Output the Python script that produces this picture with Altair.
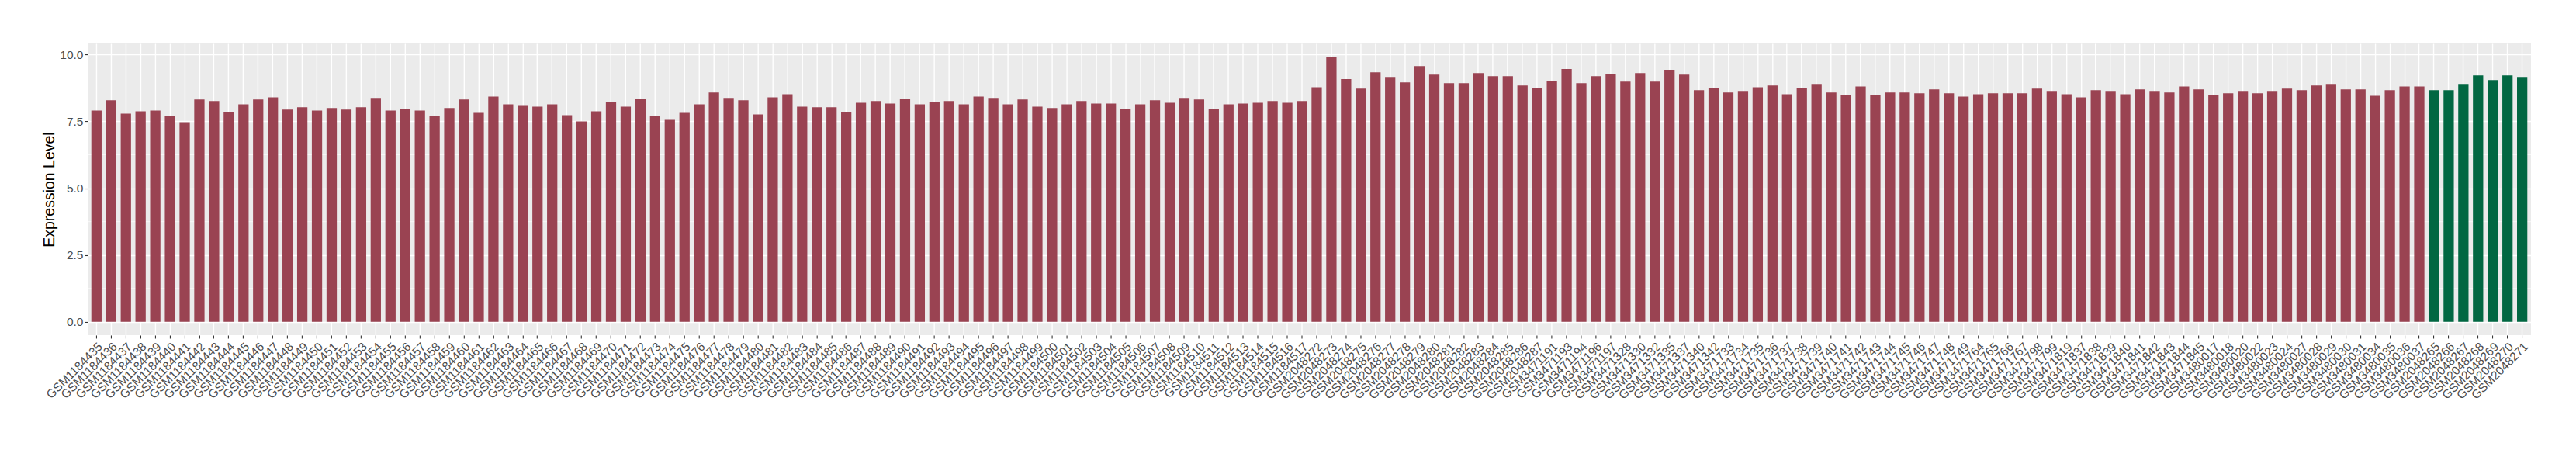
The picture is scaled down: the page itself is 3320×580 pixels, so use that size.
import altair as alt
import pandas as pd

# ---------------- data ----------------
samples = [
    "GSM1184435", "GSM1184436", "GSM1184437", "GSM1184438", "GSM1184439", "GSM1184440", "GSM1184441",
    "GSM1184442", "GSM1184443", "GSM1184444", "GSM1184445", "GSM1184446", "GSM1184447", "GSM1184448",
    "GSM1184449", "GSM1184450", "GSM1184451", "GSM1184452", "GSM1184453", "GSM1184454", "GSM1184455",
    "GSM1184456", "GSM1184457", "GSM1184458", "GSM1184459", "GSM1184460", "GSM1184461", "GSM1184462",
    "GSM1184463", "GSM1184464", "GSM1184465", "GSM1184466", "GSM1184467", "GSM1184468", "GSM1184469",
    "GSM1184470", "GSM1184471", "GSM1184472", "GSM1184473", "GSM1184474", "GSM1184475", "GSM1184476",
    "GSM1184477", "GSM1184478", "GSM1184479", "GSM1184480", "GSM1184481", "GSM1184482", "GSM1184483",
    "GSM1184484", "GSM1184485", "GSM1184486", "GSM1184487", "GSM1184488", "GSM1184489", "GSM1184490",
    "GSM1184491", "GSM1184492", "GSM1184493", "GSM1184494", "GSM1184495", "GSM1184496", "GSM1184497",
    "GSM1184498", "GSM1184499", "GSM1184500", "GSM1184501", "GSM1184502", "GSM1184503", "GSM1184504",
    "GSM1184505", "GSM1184506", "GSM1184507", "GSM1184508", "GSM1184509", "GSM1184510", "GSM1184511",
    "GSM1184512", "GSM1184513", "GSM1184514", "GSM1184515", "GSM1184516", "GSM1184517",
    "GSM2048272", "GSM2048273", "GSM2048274", "GSM2048275", "GSM2048276", "GSM2048277", "GSM2048278",
    "GSM2048279", "GSM2048280", "GSM2048281", "GSM2048282", "GSM2048283", "GSM2048284", "GSM2048285",
    "GSM2048286", "GSM2048287",
    "GSM3471191", "GSM3471193", "GSM3471194", "GSM3471196", "GSM3471197",
    "GSM3471328", "GSM3471330", "GSM3471332", "GSM3471335", "GSM3471337", "GSM3471340", "GSM3471342",
    "GSM3471733", "GSM3471734", "GSM3471735", "GSM3471736", "GSM3471737", "GSM3471738", "GSM3471739",
    "GSM3471740", "GSM3471741", "GSM3471742", "GSM3471743", "GSM3471744", "GSM3471745", "GSM3471746",
    "GSM3471747", "GSM3471748", "GSM3471749", "GSM3471764", "GSM3471765", "GSM3471766", "GSM3471767",
    "GSM3471798", "GSM3471799", "GSM3471819", "GSM3471837", "GSM3471838", "GSM3471839", "GSM3471840",
    "GSM3471841", "GSM3471842", "GSM3471843", "GSM3471844", "GSM3471845",
    "GSM3480017", "GSM3480018", "GSM3480020", "GSM3480022", "GSM3480023", "GSM3480024", "GSM3480027",
    "GSM3480028", "GSM3480029", "GSM3480030", "GSM3480031", "GSM3480034", "GSM3480035", "GSM3480036",
    "GSM3480037",
    "GSM2048265", "GSM2048266", "GSM2048267", "GSM2048268", "GSM2048269", "GSM2048270", "GSM2048271",
]

values = [
    7.91, 8.29, 7.79, 7.88, 7.91, 7.70, 7.47, 8.32, 8.26, 7.85, 8.14, 8.32, 8.40, 7.94, 8.03, 7.91,
    8.00, 7.94, 8.03, 8.38, 7.91, 7.97, 7.91, 7.70, 8.00, 8.32, 7.82, 8.43, 8.14, 8.11, 8.05, 8.14,
    7.73, 7.50, 7.88, 8.23, 8.05, 8.35, 7.70, 7.56, 7.82, 8.14, 8.58, 8.38, 8.29, 7.76, 8.40, 8.52,
    8.05, 8.03, 8.03, 7.85, 8.20, 8.26, 8.17,
    8.35, 8.14, 8.23, 8.26, 8.14, 8.43, 8.38, 8.14, 8.32, 8.05, 8.00, 8.14, 8.26, 8.17, 8.17, 7.97,
    8.14, 8.29, 8.20, 8.38, 8.32, 7.97, 8.14, 8.17, 8.20, 8.26, 8.20, 8.26,
    8.78, 9.92, 9.08, 8.73, 9.34, 9.16, 8.96, 9.57, 9.25, 8.93, 8.93, 9.31, 9.19, 9.19, 8.84, 8.75,
    9.02, 9.46, 8.93, 9.19, 9.28, 8.99, 9.31, 8.99, 9.43, 9.25, 8.67,
    8.75, 8.58, 8.64, 8.78, 8.84, 8.52, 8.75, 8.90, 8.58, 8.49, 8.81, 8.49, 8.58, 8.58, 8.55, 8.70,
    8.55, 8.43, 8.52, 8.55, 8.55, 8.55, 8.73, 8.64, 8.52, 8.40, 8.67, 8.64, 8.52, 8.70, 8.64, 8.58,
    8.81, 8.70, 8.49, 8.55, 8.64, 8.55, 8.64, 8.73, 8.67, 8.84, 8.90, 8.70, 8.70, 8.46, 8.67, 8.81,
    8.81,
    8.67, 8.67, 8.90, 9.22, 9.05, 9.22, 9.16,
]

groups = ["Other"] * 159 + ["Highlight"] * 7
group_names = ["Other", "Highlight"]
group_colors = ["#9A4352", "#016742"]

y_ticks = [0, 2.5, 5, 7.5, 10]
y_minor = [1.25, 3.75, 6.25, 8.75]
y_domain = [-0.496, 10.416]

assert len(samples) == len(values) == len(groups), (len(samples), len(values), len(groups))

df = pd.DataFrame({"Sample": samples, "Expression": values, "Group": groups})
minor_df = pd.DataFrame({"minor": y_minor})

FONT = "Liberation Sans"

x_enc = alt.X(
    "Sample:N",
    sort=None,
    scale=alt.Scale(paddingInner=0.3, paddingOuter=0.25),
    axis=alt.Axis(
        title=None,
        labelAngle=-45,
        labelAlign="right",
        labelBaseline="top",
        labelPadding=3,
        labelOverlap=False,
        labelLimit=400,
        labelFont=FONT,
        labelFontSize=15.5,
        labelColor="#4D4D4D",
        bandPosition=0.5,
        grid=True,
        gridColor="white",
        gridWidth=1.4,
        domain=False,
        ticks=True,
        tickColor="#333333",
        tickWidth=1.1,
        tickSize=4,
    ),
)

y_scale = alt.Scale(domain=y_domain, nice=False, zero=False)

minor = alt.Chart(minor_df).mark_rule(color="white", strokeWidth=0.7).encode(
    y=alt.Y("minor:Q", scale=y_scale)
)

bars = alt.Chart(df).mark_bar().encode(
    x=x_enc,
    y=alt.Y(
        "Expression:Q",
        scale=y_scale,
        axis=alt.Axis(
            title="Expression Level",
            values=y_ticks,
            format=".1f",
            labelFont=FONT,
            labelFontSize=15.5,
            labelColor="#4D4D4D",
            labelPadding=2,
            grid=True,
            gridColor="white",
            gridWidth=1.4,
            domain=False,
            tickColor="#333333",
            tickWidth=1.1,
            tickSize=4,
            titleFont=FONT,
            titleFontSize=19.5,
            titleFontWeight="normal",
            titleColor="black",
            titleAngle=270,
            titleAlign="center",
            titleBaseline="middle",
            titleX=-49,
            titleY=188,
        ),
    ),
    y2=alt.datum(0),
    color=alt.Color(
        "Group:N",
        scale=alt.Scale(domain=group_names, range=group_colors),
        legend=None,
    ),
)

chart = (
    alt.layer(minor, bars)
    .properties(
        width=3150,
        height=376,
        autosize=alt.AutoSizeParams(type="none"),
        padding={"left": 105, "top": 48, "right": 50, "bottom": 140},
        background="white",
    )
    .configure_view(fill="#EBEBEB", stroke=None)
)

chart.save("out.html", embed_options={"renderer": "svg", "actions": False})
